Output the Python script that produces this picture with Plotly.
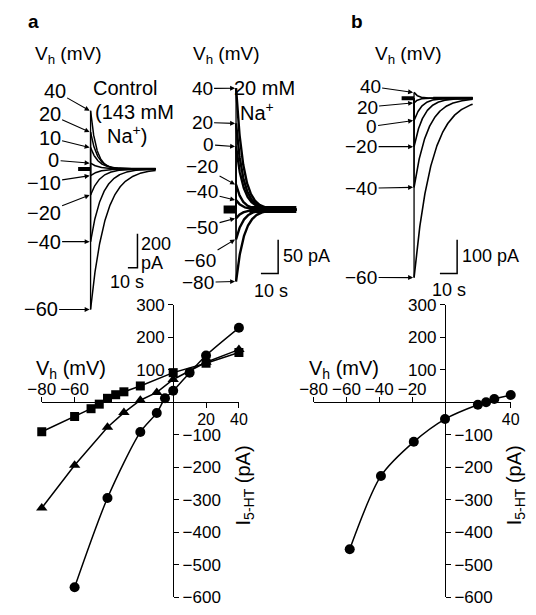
import numpy as np
import plotly.graph_objects as go

W, H = 536, 615
FONT = "Liberation Sans"

# ---------------- data ----------------
# Panel a, control (143 mM Na+): holding potential, peak current (pA), decay tau (s)
ctrl_vh = [40, 20, 10, 0, -10, -20, -40, -60]
ctrl_peak = [343, 217, 126, 34, -40, -154, -429, -829]
ctrl_tau = [6, 7, 8, 8, 9, 10, 12, 15]
ctrl_dur = 68  # s

# Panel a, 20 mM Na+
na20_vh = [40, 20, 0, -20, -40, -50, -60, -80]
na20_peak = [179, 127, 93, 37, 14, -13, -44, -106]
na20_tau = [4.2, 4.2, 4.2, 3.6, 3.6, 3.6, 4.2, 4.6]
na20_dur = 35

# Panel b
b_vh = [40, 20, 0, -20, -40, -60]
b_peak = [17, -14, -66, -143, -263, -529]
b_tau = [2.2, 2.2, 4.4, 5.6, 7.8, 10]
b_dur = 34

# I-V, panel a
iva_circ_v = [-60, -40, -20, -10, -5, 0, 10, 20, 40]
iva_circ_i = [-570, -295, -92, -33, 12, 35, 91, 144, 229]
iva_tri_v = [-80, -60, -40, -30, -20, -10, 0, 20, 40]
iva_tri_i = [-326, -194, -77, -32, 6, 30, 70, 123, 162]
iva_sq_v = [-80, -60, -50, -45, -40, -35, -30, -20, 0, 20, 40]
iva_sq_i = [-91, -44, -20, -6, 12, 23, 32, 50, 91, 120, 153]

# I-V, panel b
ivb_v = [-58, -39, -19, 0, 20, 25, 30, 40]
ivb_i = [-453, -227, -122, -52, -8, 0, 10, 22]

# I-V axis ticks
iv_x_neg_a = [-80, -60]
iv_x_neg_b = [-80, -60, -40, -20]
iv_x_pos_a = [20, 40]
iv_x_pos_b = [40]
iv_y_pos = [100, 200, 300]
iv_y_neg = [-100, -200, -300, -400, -500, -600]

# scale bars (time s, current pA)
bar_a_ctrl = (10, 200)
bar_a_na = (10, 50)
bar_b = (10, 100)

# ---------------- layout helpers ----------------
def xdom(p0, p1):
    return [p0 / W, p1 / W]

def ydom(p0, p1):
    return [1 - p1 / H, 1 - p0 / H]

def px(x):
    return x / W

def py(y):
    return 1 - y / H

fig = go.Figure()
annotations = []
LBL = 20

def txt(s, x, y, size=LBL, xanchor="center", bold=False, angle=0):
    if bold:
        s = "<b>" + s + "</b>"
    annotations.append(dict(text=s, x=px(x), y=py(y), xref="paper", yref="paper",
                            showarrow=False, xanchor=xanchor, yanchor="middle",
                            textangle=angle,
                            font=dict(family=FONT, size=size, color="black")))

# trace-panel geometry: (origin px, px per s, px per pA, domain px)
panels = {
    "a1": dict(ox=80, oy=165, sx=1.0, sy=0.175, dx=(58, 162), dy=(70, 335)),
    "a2": dict(ox=232, oy=207, sx=1.8, sy=0.7, dx=(212, 312), dy=(70, 300)),
    "b": dict(ox=418, oy=92, sx=1.8, sy=0.35, dx=(398, 500), dy=(60, 300)),
}
axid = {"a1": "", "a2": "2", "b": "3"}

layout_axes = {}
for k, g in panels.items():
    n = axid[k]
    xr = [(g["dx"][0] - g["ox"]) / g["sx"], (g["dx"][1] - g["ox"]) / g["sx"]]
    yr = [(g["oy"] - g["dy"][1]) / g["sy"], (g["oy"] - g["dy"][0]) / g["sy"]]
    layout_axes["xaxis" + n] = dict(domain=xdom(*g["dx"]), range=xr, visible=False,
                                    anchor="y" + n)
    layout_axes["yaxis" + n] = dict(domain=ydom(*g["dy"]), range=yr, visible=False,
                                    anchor="x" + n)

def add_traces(key, peaks, taus, dur, width, pre_px, pre_w, tail_px, tail_w):
    g = panels[key]
    n = axid[key]
    pre = pre_px / g["sx"]
    # baseline before application (thick)
    fig.add_trace(go.Scatter(x=[-pre, 0], y=[0, 0], mode="lines",
                             line=dict(color="black", width=pre_w),
                             xaxis="x" + n, yaxis="y" + n, hoverinfo="skip"))
    # baseline after recovery (superimposed tails)
    fig.add_trace(go.Scatter(x=[tail_px / g["sx"], dur], y=[0, 0], mode="lines",
                             line=dict(color="black", width=tail_w),
                             xaxis="x" + n, yaxis="y" + n, hoverinfo="skip"))
    # fast rising phases (thin vertical)
    rx, ry = [], []
    for p in peaks:
        rx += [0, 0, None]
        ry += [0, p, None]
    fig.add_trace(go.Scatter(x=rx, y=ry, mode="lines",
                             line=dict(color="black", width=1.3),
                             xaxis="x" + n, yaxis="y" + n, hoverinfo="skip"))
    t = np.linspace(0, dur, 300)
    for p, tau in zip(peaks, taus):
        fig.add_trace(go.Scatter(x=t, y=p * np.exp(-t / tau), mode="lines",
                                 line=dict(color="black", width=width),
                                 xaxis="x" + n, yaxis="y" + n, hoverinfo="skip"))

add_traces("a1", ctrl_peak, ctrl_tau, ctrl_dur, 1.5, 13, 4, 30, 2.5)
add_traces("a2", na20_peak, na20_tau, na20_dur, 2.4, 13, 8, 14, 7)
add_traces("b", b_peak, b_tau, b_dur, 1.6, 13, 4, 20, 3)

def add_bar(key, bar, corner_px):
    g = panels[key]
    n = axid[key]
    tc = (corner_px[0] - g["ox"]) / g["sx"]
    ic = (g["oy"] - corner_px[1]) / g["sy"]
    fig.add_trace(go.Scatter(x=[tc - bar[0], tc, tc], y=[ic, ic, ic + bar[1]],
                             mode="lines", line=dict(color="black", width=1.5),
                             xaxis="x" + n, yaxis="y" + n, hoverinfo="skip"))

add_bar("a1", bar_a_ctrl, (129, 267))
add_bar("a2", bar_a_na, (276, 273))
add_bar("b", bar_b, (463, 273))

def add_labels(key, vh, peaks, label_pos, size=LBL):
    """Label text with an arrow pointing at the start of each trace."""
    g = panels[key]
    n = axid[key]
    for v, p, (lx, ly) in zip(vh, peaks, label_pos):
        s = str(v).replace("-", "\u2212")
        tipx = g["ox"] - 1
        tipy = g["oy"] - p * g["sy"]
        annotations.append(dict(text=s, x=-1 / g["sx"], y=p, xref="x" + n, yref="y" + n,
                                showarrow=True, ax=lx - tipx, ay=ly - tipy,
                                arrowhead=2, arrowsize=0.9, arrowwidth=1.1,
                                arrowcolor="black", standoff=0, borderpad=1,
                                font=dict(family=FONT, size=size, color="black")))

add_labels("a1", ctrl_vh, ctrl_peak,
           [(44, 85), (39, 109), (39, 133), (43, 156), (33, 179), (33, 210), (33, 240), (30, 310)])
add_labels("a2", na20_vh, na20_peak,
           [(198, 82), (198, 117), (204, 140), (198, 163), (198, 189), (198, 225), (196, 259), (194, 282)],
           size=19)
add_labels("b", b_vh, b_peak,
           [(374, 80), (371, 101), (375, 121), (365, 142), (365, 185), (365, 277)], size=19)

# panel texts
txt("a", 20, 13, size=19, bold=True)
txt("b", 358, 13, size=19, bold=True)
txt("V<sub>h</sub> (mV)", 57, 47, size=19)
txt("V<sub>h</sub> (mV)", 222, 47, size=19)
txt("V<sub>h</sub> (mV)", 412, 47, size=19)
txt("Control", 116, 82)
txt("(143 mM", 126, 106)
txt("Na<sup>+</sup>)", 118, 129)
txt("20 mM", 262, 82)
txt("Na<sup>+</sup>", 254, 106)
txt("200", 131, 242, size=18, xanchor="left")
txt("pA", 131, 262, size=18, xanchor="left")
txt("10 s", 118, 282, size=18)
txt("50 pA", 279, 255, size=18, xanchor="left")
txt("10 s", 268, 291, size=18)
txt("100 pA", 466, 255, size=18, xanchor="left")
txt("10 s", 455, 290, size=18)

# ---------------- I-V plots ----------------
iv_xr = [-80, 40]
iv_yr = [-600.6, 300.6]

def iv_axes(xn, xon, yn, yon, dx, dy, xneg, xpos):
    xd = xdom(*dx)
    yd = ydom(*dy)
    ypos0 = yd[0] + (0 - iv_yr[0]) / (iv_yr[1] - iv_yr[0]) * (yd[1] - yd[0])
    xpos0 = xd[0] + (0 - iv_xr[0]) / (iv_xr[1] - iv_xr[0]) * (xd[1] - xd[0])
    common = dict(showgrid=False, zeroline=False, ticks="outside", ticklen=5,
                  tickwidth=1.4, tickcolor="black", linecolor="black", linewidth=1.4,
                  ticklabeloverflow="allow")
    tf = dict(family=FONT, size=17, color="black")
    layout_axes["xaxis" + xn] = dict(domain=xd, range=iv_xr, anchor="free", position=ypos0,
                                     side="bottom", tickmode="array", tickvals=xpos,
                                     showline=True, ticklabelstandoff=-3,
                                     tickfont=dict(family=FONT, size=16, color="black"),
                                     **common)
    layout_axes["xaxis" + xon] = dict(range=iv_xr, overlaying="x" + xn, anchor="free",
                                      position=ypos0, side="top", tickmode="array",
                                      tickvals=xneg, showline=False, ticklabelstandoff=-5,
                                      tickfont=tf, **common)
    layout_axes["yaxis" + yn] = dict(domain=yd, range=iv_yr, anchor="free", position=xpos0,
                                     side="left", tickmode="array", tickvals=iv_y_pos,
                                     showline=True, tickfont=tf, **common)
    layout_axes["yaxis" + yon] = dict(range=iv_yr, overlaying="y" + yn, anchor="free",
                                      position=xpos0, side="right", tickmode="array",
                                      tickvals=iv_y_neg, showline=False, tickfont=tf,
                                      **common)
    # invisible traces to bind the overlay axes
    fig.add_trace(go.Scatter(x=[0], y=[0], mode="markers", opacity=0, showlegend=False,
                             xaxis="x" + xon, yaxis="y" + yn, hoverinfo="skip"))
    fig.add_trace(go.Scatter(x=[0], y=[0], mode="markers", opacity=0, showlegend=False,
                             xaxis="x" + xn, yaxis="y" + yon, hoverinfo="skip"))

iv_axes("4", "5", "4", "5", (29, 235), (305, 607), iv_x_neg_a, iv_x_pos_a)
iv_axes("6", "7", "6", "7", (313, 519), (305, 607), iv_x_neg_b, iv_x_pos_b)

def iv_series(v, i, symbol, shape, xa, ya, size=9):
    fig.add_trace(go.Scatter(x=v, y=i, mode="lines+markers",
                             line=dict(color="black", width=1.5, shape=shape, smoothing=0.8),
                             marker=dict(symbol=symbol, size=size, color="black"),
                             cliponaxis=False, xaxis=xa, yaxis=ya, hoverinfo="skip"))

iv_series(iva_sq_v, iva_sq_i, "square", "linear", "x4", "y4", 9)
iv_series(iva_tri_v, iva_tri_i, "triangle-up", "linear", "x4", "y4", 10)
iv_series(iva_circ_v, iva_circ_i, "circle", "spline", "x4", "y4", 10)
iv_series(ivb_v, ivb_i, "circle", "spline", "x6", "y6", 10)

txt("V<sub>h</sub> (mV)", 60, 372)
txt("V<sub>h</sub> (mV)", 345, 372)
txt("I<sub>5-HT</sub> (pA)", 241, 492, angle=-90)
txt("I<sub>5-HT</sub> (pA)", 524, 492, angle=-90)

fig.update_layout(width=W, height=H, margin=dict(l=0, r=0, t=0, b=0),
                  paper_bgcolor="white", plot_bgcolor="rgba(0,0,0,0)",
                  showlegend=False, annotations=annotations,
                  font=dict(family=FONT, color="black"), **layout_axes)

fig.write_html("out.html",
               post_script="document.body.style.margin='0';"
                           "document.body.style.overflow='hidden';")
